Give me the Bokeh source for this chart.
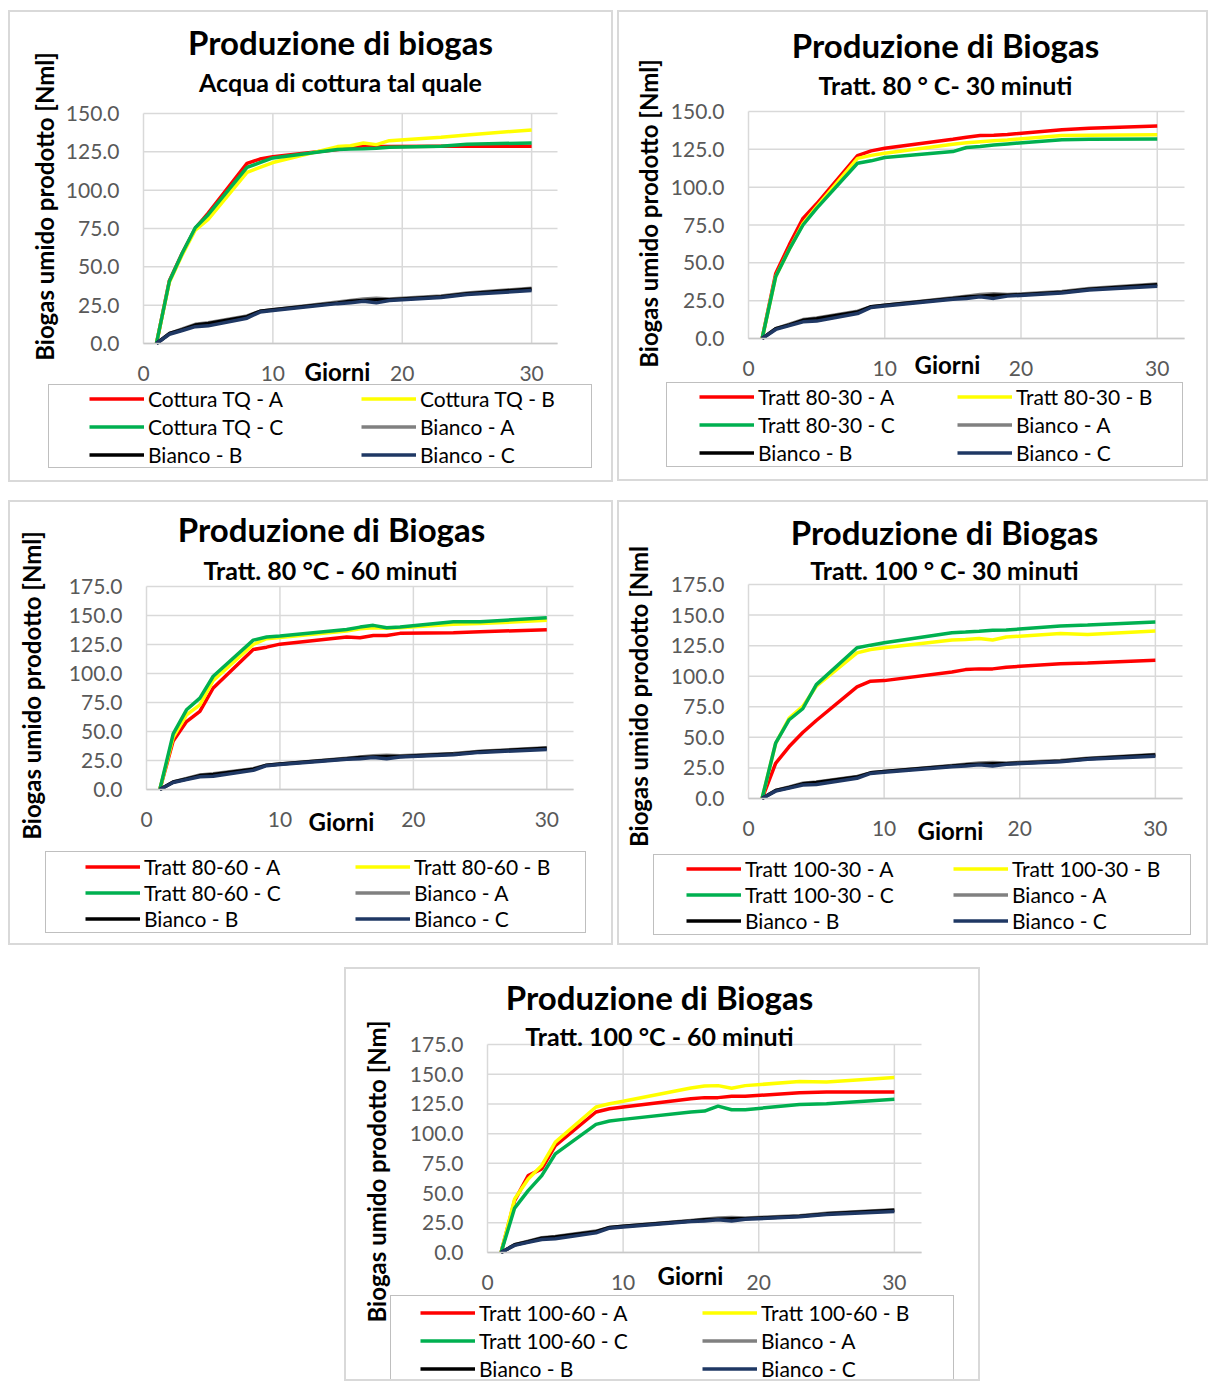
from math import pi

from bokeh.embed import file_html
from bokeh.layouts import column, row
from bokeh.models import (FixedTicker, Label, Legend, LegendItem, NumeralTickFormatter,
                          Range1d, Spacer)
from bokeh.plotting import figure
from bokeh.resources import INLINE

# ---------------------------------------------------------------- data
giorni = [1, 2, 3, 4, 5, 8, 9, 10, 15, 16, 17, 18, 19, 23, 25, 30]

# blank reactors (shared by every panel)
bianco_a = [0, 6.5, 9.5, 12.5, 13.5, 18.0, 21.0, 22.0, 27.0, 28.0, 29.0, 29.5, 29.0, 31.0, 33.0, 36.0]
bianco_b = [0, 6.5, 9.0, 12.0, 13.0, 17.5, 21.0, 22.0, 26.5, 27.5, 28.0, 28.5, 28.5, 30.5, 32.5, 35.5]
bianco_c = [0, 6.0, 8.5, 11.0, 11.5, 16.5, 20.5, 21.5, 26.0, 26.5, 27.5, 26.5, 28.0, 30.0, 32.0, 34.5]

# cooking water as is
cottura_a = [0, 41, 59, 75, 85, 117.5, 120.3, 121.8, 126.5, 127.5, 129.0, 128.5, 128.5, 128.6, 128.6, 128.6]
cottura_b = [0, 40, 58, 74, 81, 111.6, 114.8, 118.0, 128.4, 129.0, 130.8, 129.7, 132.3, 134.5, 136.0, 139.3]
cottura_c = [0, 40.6, 59, 75.5, 84, 114.8, 118.0, 121.0, 126.5, 126.8, 127.0, 127.3, 128.0, 128.6, 130.0, 130.8]

# 80 °C - 30 min
tratt_80_30_a = [0, 43, 62, 79.4, 89, 120.9, 124.0, 125.7, 131.7, 133.0, 134.1, 134.3, 134.8, 137.9, 139.0, 140.5]
tratt_80_30_b = [0, 41, 59, 76.0, 87, 119.0, 121.0, 122.4, 128.4, 129.3, 130.0, 130.6, 131.2, 134.1, 134.3, 134.6]
tratt_80_30_c = [0, 41, 59, 75.0, 86, 115.8, 117.4, 119.6, 123.5, 126.2, 126.8, 127.8, 128.6, 131.3, 131.7, 131.9]

# 80 °C - 60 min
tratt_80_60_a = [0, 41.9, 58.6, 67.3, 87.5, 120.7, 122.7, 125.3, 131.4, 130.8, 132.8, 132.8, 134.6, 135.1, 136.0, 137.7]
tratt_80_60_b = [0, 45.0, 64.4, 73.0, 94.0, 125.0, 130.0, 131.0, 136.6, 138.5, 139.5, 139.0, 139.5, 142.4, 143.0, 145.8]
tratt_80_60_c = [0, 47.9, 68.7, 78.8, 97.6, 128.8, 131.4, 132.3, 138.0, 140.0, 141.5, 139.5, 140.0, 144.7, 144.7, 148.1]

# 100 °C - 30 min
tratt_100_30_a = [0, 28.8, 42.5, 54.0, 63.8, 91.2, 95.9, 96.4, 103.5, 105.4, 106.0, 106.0, 107.4, 110.1, 110.9, 113.1]
tratt_100_30_b = [0, 45.0, 65.7, 75.3, 91.8, 119.1, 121.9, 123.3, 129.6, 130.1, 130.9, 129.6, 132.0, 135.0, 134.2, 136.9]
tratt_100_30_c = [0, 45.2, 64.4, 73.4, 93.1, 123.3, 125.4, 127.4, 135.6, 136.1, 136.7, 137.5, 137.8, 141.0, 141.9, 144.3]

# 100 °C - 60 min
tratt_100_60_a = [0, 43.6, 64.7, 70.3, 90.0, 118.2, 121.0, 122.4, 129.4, 130.3, 130.3, 131.4, 131.4, 134.5, 135.0, 135.0]
tratt_100_60_b = [0, 45.0, 61.9, 73.2, 92.9, 122.4, 125.2, 127.2, 138.4, 140.1, 140.4, 138.2, 140.4, 143.8, 143.5, 147.2]
tratt_100_60_c = [0, 37.4, 52.0, 64.7, 83.0, 107.8, 110.6, 112.0, 118.2, 119.0, 123.2, 120.1, 120.1, 124.6, 125.2, 128.9]

x_ticks = [0, 10, 20, 30]
colori = ["#FF0000", "#FFFF00", "#00B050", "#808080", "#000000", "#1F3864"]

FONT = "Lato"
TICK_GREY = "#595959"
GRID_GREY = "#d9d9d9"
X_MAX = 32

# ---------------------------------------------------------------- panels
# box = chart box (x, y, w, h) on the page; frame = plot area (left, top, right, bottom)
panels = [
    dict(box=(8, 10, 605, 472), frame=(143, 113, 557, 343), ymax=150,
         title="Produzione di biogas", sub="Acqua di cottura tal quale",
         ylab="Biogas umido prodotto [Nml]", prefix="Cottura TQ",
         series=[cottura_a, cottura_b, cottura_c],
         t_pos=(340, 41), s_pos=(340, 81), y_pos=(44, 206), g_pos=(337, 371),
         leg_box=(48, 386, 590, 468), items=(89, 399, 272, 27.5)),
    dict(box=(617, 10, 591, 471), frame=(748, 111, 1184, 338), ymax=150,
         title="Produzione di Biogas", sub="Tratt. 80 ° C- 30 minuti",
         ylab="Biogas umido prodotto [Nml]", prefix="Tratt 80-30",
         series=[tratt_80_30_a, tratt_80_30_b, tratt_80_30_c],
         t_pos=(945, 44), s_pos=(945, 84), y_pos=(648, 213), g_pos=(947, 364),
         leg_box=(666, 384, 1181, 467), items=(699, 397, 258, 28)),
    dict(box=(8, 500, 605, 445), frame=(146, 586, 573, 789), ymax=175,
         title="Produzione di Biogas", sub="Tratt. 80 °C - 60 minuti",
         ylab="Biogas umido prodotto [Nml]", prefix="Tratt 80-60",
         series=[tratt_80_60_a, tratt_80_60_b, tratt_80_60_c],
         t_pos=(331, 528), s_pos=(330, 569), y_pos=(31, 685), g_pos=(341, 821),
         leg_box=(45, 853, 584, 933), items=(85, 867, 270, 26.5)),
    dict(box=(617, 500, 591, 445), frame=(748, 584, 1182, 798), ymax=175,
         title="Produzione di Biogas", sub="Tratt. 100 ° C- 30 minuti",
         ylab="Biogas umido prodotto [Nml", prefix="Tratt 100-30",
         series=[tratt_100_30_a, tratt_100_30_b, tratt_100_30_c],
         t_pos=(944, 531), s_pos=(944, 569), y_pos=(638, 696), g_pos=(950, 830),
         leg_box=(653, 856, 1189, 935), items=(686, 869, 267, 26)),
    dict(box=(344, 967, 636, 414), frame=(487, 1044, 921, 1252), ymax=175,
         title="Produzione di Biogas", sub="Tratt. 100 °C - 60 minuti",
         ylab="Biogas umido prodotto [Nm]", prefix="Tratt 100-60",
         series=[tratt_100_60_a, tratt_100_60_b, tratt_100_60_c],
         t_pos=(659, 996), s_pos=(659, 1035), y_pos=(376, 1171), g_pos=(690, 1275),
         leg_box=(390, 1297, 952, 1386), items=(420, 1312, 282, 28)),
]

INSET = 2      # the chart box border is a 2px shadow drawn round each figure
PAGE_H = 1381


def make_panel(sp):
    bx, by, bw, bh = sp["box"]
    fx, fy, fw, fh = bx + INSET, by + INSET, bw - 2 * INSET, bh - 2 * INSET
    fh = min(fh, PAGE_H - fy)
    L, T, R, B = sp["frame"]
    ymax = sp["ymax"]
    kx = X_MAX / (R - L)
    ky = ymax / (B - T)

    def dx(px):
        return (px - L) * kx

    def dy(py):
        return (B - py) * ky

    # the data ranges cover the whole figure, so every annotation stays on the canvas
    p = figure(width=fw, height=fh,
               x_range=Range1d(dx(fx), dx(fx + fw)), y_range=Range1d(dy(fy + fh), dy(fy)),
               output_backend="svg", toolbar_location=None, title=None,
               min_border_left=0, min_border_right=0, min_border_top=0, min_border_bottom=0,
               background_fill_color="white", border_fill_color="white",
               outline_line_color=None,
               styles={"box-shadow": "0 0 0 2px #d9d9d9"})

    y_ticks = list(range(0, ymax + 1, 25))
    p.xgrid.visible = False
    p.ygrid.visible = False
    p.segment(x0=x_ticks, y0=[0] * len(x_ticks), x1=x_ticks, y1=[ymax] * len(x_ticks),
              line_color=GRID_GREY, line_width=1.5)
    p.segment(x0=[0] * len(y_ticks), y0=y_ticks, x1=[X_MAX] * len(y_ticks), y1=y_ticks,
              line_color=GRID_GREY, line_width=1.5)

    p.xaxis.ticker = FixedTicker(ticks=x_ticks)
    p.yaxis.ticker = FixedTicker(ticks=y_ticks)
    p.yaxis.formatter = NumeralTickFormatter(format="0.0")
    p.xaxis.fixed_location = 0
    p.yaxis.fixed_location = 0
    p.xaxis.bounds = (0, X_MAX)
    p.yaxis.bounds = (0, ymax)
    for ax in (p.xaxis, p.yaxis):
        ax.major_tick_line_color = None
        ax.minor_tick_line_color = None
        ax.major_label_text_font = FONT
        ax.major_label_text_font_size = "21px"
        ax.major_label_text_color = TICK_GREY
    p.yaxis.axis_line_color = None
    p.yaxis.major_label_standoff = 18
    p.xaxis.axis_line_color = "#c8c8c8"
    p.xaxis.axis_line_width = 1.5
    p.xaxis.major_label_standoff = 16

    names = [f"{sp['prefix']} - A", f"{sp['prefix']} - B", f"{sp['prefix']} - C",
             "Bianco - A", "Bianco - B", "Bianco - C"]
    data = sp["series"] + [bianco_a, bianco_b, bianco_c]
    rends = [p.line(giorni, vals, line_color=col, line_width=3.5)
             for vals, col in zip(data, colori)]

    # legend frame
    bottom = fy + fh
    lx0, ly0, lx1, ly1 = sp["leg_box"]
    ghost = p.line(giorni, bianco_c, line_alpha=0)
    frame_leg = Legend(items=[LegendItem(label=" ", renderers=[ghost])],
                       location=(lx0 - fx, bottom - ly1), padding=0, margin=0, spacing=0,
                       glyph_width=lx1 - lx0, glyph_height=ly1 - ly0,
                       label_width=0, label_height=0, label_standoff=0,
                       label_text_font_size="1px",
                       border_line_color="#7f7f7f", border_line_width=1.5,
                       background_fill_color="white", background_fill_alpha=1)
    p.add_layout(frame_leg, "center")

    # legend entries, two per row
    gx, r1, cp, rp = sp["items"]
    H = 25
    S = int(round(rp)) - H
    top = int(round(r1 - H / 2))
    height = 3 * H + 2 * S
    leg = Legend(items=[LegendItem(label=n, renderers=[r]) for n, r in zip(names, rends)],
                 orientation="horizontal", ncols=2,
                 location=(gx - fx, bottom - top - height), padding=0, margin=0, spacing=S,
                 glyph_width=55, glyph_height=H, label_height=H,
                 label_width=int(cp - S - 59), label_standoff=4,
                 label_text_font=FONT, label_text_font_size="21px",
                 label_text_color="black",
                 border_line_color=None, background_fill_alpha=0)
    p.add_layout(leg, "center")

    def lab(text, pos, size, angle=0.0):
        p.add_layout(Label(x=dx(pos[0]), y=dy(pos[1]), text=text, angle=angle,
                           text_font=FONT, text_font_size=size, text_font_style="bold",
                           text_color="black", text_align="center",
                           text_baseline="middle"))

    lab(sp["title"], sp["t_pos"], "33px")
    lab(sp["sub"], sp["s_pos"], "25px")
    lab(sp["ylab"], sp["y_pos"], "24px", angle=pi / 2)
    lab("Giorni", sp["g_pos"], "24px")
    return p


p1, p2, p3, p4, p5 = [make_panel(sp) for sp in panels]

page = column(
    Spacer(width=1208, height=12),
    row(Spacer(width=10, height=10), p1, Spacer(width=8, height=10), p2),
    Spacer(width=1208, height=22),
    row(Spacer(width=10, height=10), p3, Spacer(width=8, height=10), p4),
    Spacer(width=1208, height=26),
    row(Spacer(width=346, height=10), p5),
)

open("out.html", "w").write(file_html(page, INLINE))
